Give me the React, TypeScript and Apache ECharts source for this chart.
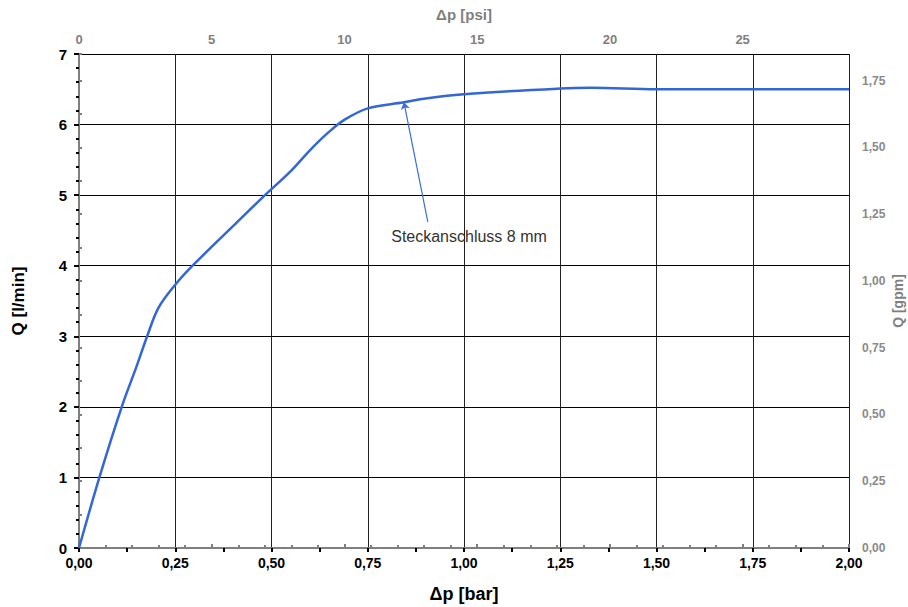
import React, { useEffect, useRef } from "react";
import * as echarts from "echarts";

const pressureBar = [0, 0.053, 0.111, 0.15, 0.177, 0.206, 0.25, 0.295, 0.4, 0.483, 0.548, 0.604, 0.65, 0.69, 0.75, 0.844, 0.886, 1.0, 1.25, 1.33, 1.5, 1.75, 2.0];
const flowLmin = [0, 1, 2, 2.58, 3, 3.4, 3.73, 4, 4.56, 5, 5.33, 5.66, 5.9, 6.07, 6.23, 6.315, 6.36, 6.43, 6.51, 6.52, 6.5, 6.5, 6.5];
const seriesName = "Steckanschluss 8 mm";
const annotationFrom = [0.844, 6.315];
const annotationTo = [0.906, 4.62];
const annotationLabelAt = [1.013, 4.41];

const BAR_TO_PSI = 14.5038;
const LMIN_TO_GPM = 1 / 3.785411784;

const FONT = "'Liberation Sans', Arial, sans-serif";
const GRAY = "#7f7f7f";

const comma = (v: number, d: number) => v.toFixed(d).replace(".", ",");

export default function App() {
  const ref = useRef<HTMLDivElement>(null);
  useEffect(() => {
    if (!ref.current) return;
    const chart = echarts.init(ref.current, undefined, { renderer: "svg" });
    const data = pressureBar.map((x, i) => [x, flowLmin[i]]);
    chart.setOption({
      animation: false,
      textStyle: { fontFamily: FONT },
      grid: { left: 79, right: 59, top: 54, bottom: 59, containLabel: false, outerBoundsMode: "none" },
      xAxis: [
        {
          type: "value",
          position: "bottom",
          min: 0,
          max: 2,
          interval: 0.25,
          name: "Δp [bar]",
          nameLocation: "middle",
          nameGap: 37,
          nameTextStyle: { fontSize: 18, fontWeight: "bold", color: "#000", fontFamily: FONT },
          axisLine: { lineStyle: { color: "#000", width: 2 } },
          axisTick: { show: true, length: 4, lineStyle: { color: "#000", width: 2 } },
          minorTick: { show: true, splitNumber: 2, length: 4, lineStyle: { color: "#000", width: 2 } },
          axisLabel: { fontSize: 14, fontWeight: "bold", color: "#000", margin: 8, fontFamily: FONT, formatter: (v: number) => comma(v, 2) },
          splitLine: { show: true, lineStyle: { color: "#222", width: 1 } },
        },
        {
          type: "value",
          position: "top",
          min: 0,
          max: 2 * BAR_TO_PSI,
          interval: 5,
          name: "Δp [psi]",
          nameLocation: "middle",
          nameGap: 32,
          nameTextStyle: { fontSize: 15, fontWeight: "bold", color: GRAY, fontFamily: FONT },
          axisLine: { lineStyle: { color: GRAY, width: 2 } },
          axisTick: { show: true, length: 4, lineStyle: { color: GRAY, width: 2 } },
          minorTick: { show: true, splitNumber: 5, length: 3, lineStyle: { color: GRAY, width: 2 } },
          axisLabel: { fontSize: 13, fontWeight: "bold", color: GRAY, margin: 8, showMaxLabel: false, fontFamily: FONT },
          splitLine: { show: false },
        },
      ],
      yAxis: [
        {
          type: "value",
          position: "left",
          min: 0,
          max: 7,
          interval: 1,
          name: "Q [l/min]",
          nameLocation: "middle",
          nameGap: 52,
          nameTextStyle: { fontSize: 17, fontWeight: "bold", color: "#000", fontFamily: FONT },
          axisLine: { show: true, lineStyle: { color: "#000", width: 2 } },
          axisTick: { show: true, length: 5, lineStyle: { color: "#000", width: 2 } },
          minorTick: { show: true, splitNumber: 5, length: 3, lineStyle: { color: "#000", width: 2 } },
          axisLabel: { fontSize: 15, fontWeight: "bold", color: "#000", margin: 12, fontFamily: FONT },
          splitLine: { show: true, lineStyle: { color: "#000", width: 1 } },
        },
        {
          type: "value",
          position: "right",
          min: 0,
          max: 7 * LMIN_TO_GPM,
          interval: 0.25,
          name: "Q [gpm]",
          nameLocation: "middle",
          nameGap: 42,
          nameMoveOverlap: false,
          nameTextStyle: { fontSize: 14, fontWeight: "bold", color: GRAY, fontFamily: FONT },
          axisLine: { show: true, lineStyle: { color: GRAY, width: 2 } },
          axisTick: { show: true, length: 3, lineStyle: { color: GRAY, width: 2 } },
          minorTick: { show: true, splitNumber: 2, length: 3, lineStyle: { color: GRAY, width: 2 } },
          axisLabel: { fontSize: 12, fontWeight: "bold", color: "#8a8a8a", margin: 13, showMaxLabel: false, fontFamily: FONT, formatter: (v: number) => comma(v, 2) },
          splitLine: { show: false },
        },
      ],
      series: [
        {
          name: seriesName,
          type: "line",
          xAxisIndex: 0,
          yAxisIndex: 0,
          data,
          smooth: 0.35,
          symbol: "none",
          lineStyle: { color: "#3366d6", width: 2.5 },
          markLine: {
            silent: true,
            symbol: ["arrow", "none"],
            symbolSize: 7,
            label: { show: false },
            lineStyle: { color: "#3a6ee0", width: 1.2, type: "solid" },
            data: [[{ coord: annotationFrom }, { coord: annotationTo }]],
          },
          markPoint: {
            silent: true,
            symbol: "circle",
            symbolSize: 0,
            data: [
              {
                coord: annotationLabelAt,
                label: {
                  show: true,
                  position: "inside",
                  formatter: seriesName,
                  color: "#333",
                  fontSize: 16,
                  fontFamily: FONT,
                },
              },
            ],
          },
        },
      ],
    });
    return () => chart.dispose();
  }, []);
  return <div ref={ref} style={{ width: 908, height: 607, position: "absolute", left: 0, top: 0, background: "#fff" }} />;
}
